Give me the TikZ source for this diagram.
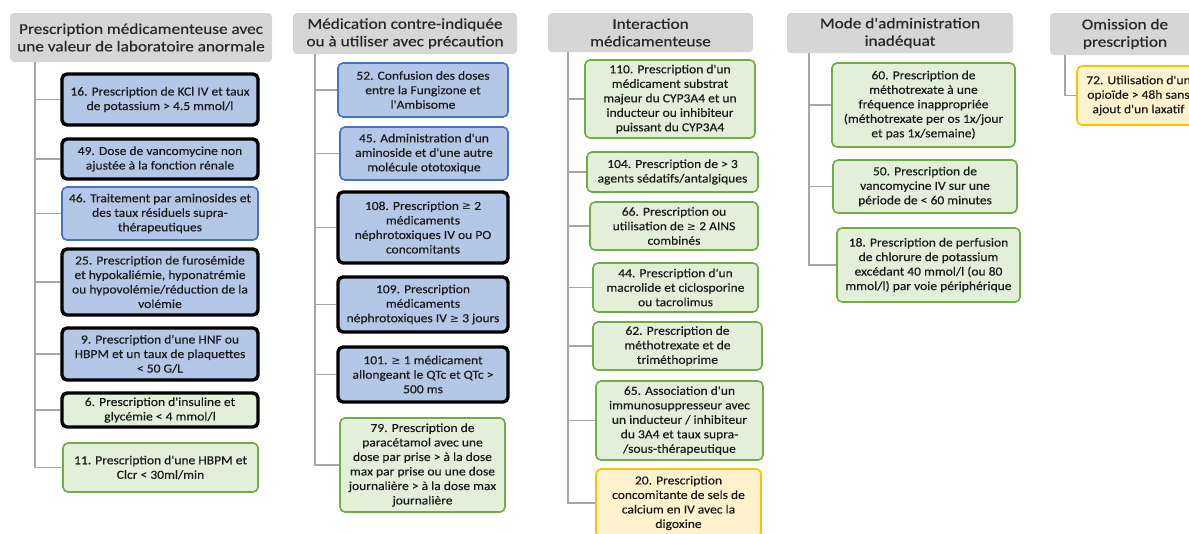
\documentclass[tikz,border=0pt]{standalone}
\usepackage{fontspec}
\setmainfont{Carlito}
\newfontfamily\boxfam{Carlito}[FakeStretch=1.1, FakeBold=0.3]
\newfontfamily\hdrfam{Carlito}[FakeStretch=1.15, FakeBold=0.2]
\newfontfamily\symfont{DejaVu Sans}
\newcommand{\myhdrfont}{\hdrfam\fontsize{15}{17.5}\selectfont}
\newcommand{\myboxfont}{\boxfam\fontsize{12.3}{14.5}\selectfont}
\newcommand{\mygeq}{{\symfont\fontsize{11}{14.5}\selectfont ≥}}
\definecolor{hdrgray}{HTML}{D6D6D6}
\definecolor{hdrtext}{HTML}{262626}
\definecolor{boxtext}{HTML}{1A1A1A}
\definecolor{bluefill}{HTML}{B4C7E7}
\definecolor{blueline}{HTML}{4472C4}
\definecolor{greenfill}{HTML}{E2F0D9}
\definecolor{greenline}{HTML}{70AD47}
\definecolor{yellowfill}{HTML}{FFF2CC}
\definecolor{yellowline}{HTML}{FFC000}
\definecolor{connline}{HTML}{A6A6A6}
\tikzset{
  hdr/.style={fill=hdrgray, rounded corners=4pt, inner sep=0pt, align=center, font=\myhdrfont, text=hdrtext},
  bx/.style={rounded corners=5pt, inner sep=0pt, align=center, font=\myboxfont, text=boxtext},
  bluebox/.style={bx, fill=bluefill, draw=blueline, line width=1.6pt},
  blackblue/.style={bx, fill=bluefill, draw=black, line width=3.4pt},
  blackgreen/.style={bx, fill=greenfill, draw=black, line width=3.4pt},
  greenbox/.style={bx, fill=greenfill, draw=greenline, line width=1.6pt},
  yellowbox/.style={bx, fill=yellowfill, draw=yellowline, line width=1.6pt},
  conn/.style={draw=connline, line width=1.8pt},
  sz/.style 2 args={minimum width=#1pt, minimum height=#2pt}
}
\begin{document}
\begin{tikzpicture}[x=1pt,y=-1pt]
\useasboundingbox (0,0) rectangle (1189,533);
\clip (0,0) rectangle (1189,533);
\fill[white] (0,0) rectangle (1189,533);

% ---------- column 1
\node[hdr, sz={262}{49}] (h1) at (141,37.5) {Prescription médicamenteuse avec\\une valeur de laboratoire anormale};
\node[blackblue, sz={196}{51}] (b16) at (160,99.5) {16. Prescription de KCl IV et taux\\de potassium > 4.5 mmol/l};
\node[blackblue, sz={196}{40}] (b49) at (160,159) {49. Dose de vancomycine non\\ajustée à la fonction rénale};
\node[bluebox, sz={196}{53}] (b46) at (160,213.5) {46. Traitement par aminosides et\\des taux résiduels supra-\\thérapeutiques};
\node[blackblue, sz={196}{66}] (b25) at (160,282) {25. Prescription de furosémide\\et hypokaliémie, hyponatrémie\\ou hypovolémie/réduction de la\\volémie};
\node[blackblue, sz={196}{52}] (b9) at (160,354) {9. Prescription d'une HNF ou\\HBPM et un taux de plaquettes\\< 50 G/L};
\node[blackgreen, sz={196}{34}] (b6) at (160,410) {6. Prescription d'insuline et\\glycémie < 4 mmol/l};
\node[greenbox, sz={195}{49}] (b11) at (160.5,467.5) {11. Prescription d'une HBPM et\\Clcr < 30ml/min};
\coordinate (v1) at (35,0);
\draw[conn] (v1 |- h1.south) |- (b11.west);
\foreach \b in {b16,b49,b46,b25,b9,b6} \draw[conn] (v1 |- \b.west) -- (\b.west);

% ---------- column 2
\node[hdr, sz={224}{41}] (h2) at (405,33.5) {Médication contre-indiquée\\ou à utiliser avec précaution};
\node[bluebox, sz={170}{54}] (b52) at (423,90) {52. Confusion des doses\\entre la Fungizone et\\l'Ambisome};
\node[bluebox, sz={168}{53}] (b45) at (424,153.5) {45. Administration d'un\\aminoside et d'une autre\\molécule ototoxique};
\node[blackblue, sz={170}{71}] (b108) at (423,227.5) {108. Prescription \mygeq{} 2\\médicaments\\néphrotoxiques IV ou PO\\concomitants};
\node[blackblue, sz={170}{55}] (b109) at (423,304.5) {109. Prescription\\médicaments\\néphrotoxiques IV \mygeq{} 3 jours};
\node[blackblue, sz={170}{55}] (b101) at (423,374.5) {101. \mygeq{} 1 médicament\\allongeant le QTc et QTc >\\500 ms};
\node[greenbox, sz={165}{94}] (b79) at (422.5,465) {79. Prescription de\\paracétamol avec une\\dose par prise > à la dose\\max par prise ou une dose\\journalière > à la dose max\\journalière};
\coordinate (v2) at (315,0);
\draw[conn] (v2 |- h2.south) |- (b79.west);
\foreach \b in {b52,b45,b108,b109,b101} \draw[conn] (v2 |- \b.west) -- (\b.west);

% ---------- column 3
\node[hdr, sz={205}{39}] (h3) at (650.5,32.5) {Interaction\\médicamenteuse};
\node[greenbox, sz={170}{78}] (b110) at (670,99) {110. Prescription d'un\\médicament substrat\\majeur du CYP3A4 et un\\inducteur ou inhibiteur\\puissant du CYP3A4};
\node[greenbox, sz={171}{40}] (b104) at (672.5,172) {104. Prescription de > 3\\agents sédatifs/antalgiques};
\node[greenbox, sz={168}{48}] (b66) at (674,226) {66. Prescription ou\\utilisation de \mygeq{} 2 AINS\\combinés};
\node[greenbox, sz={165}{49}] (b44) at (675.5,287.5) {44. Prescription d'un\\macrolide et ciclosporine\\ou tacrolimus};
\node[greenbox, sz={169}{48}] (b62) at (677.5,346) {62. Prescription de\\méthotrexate et de\\triméthoprime};
\node[greenbox, sz={167}{79}] (b65) at (679.5,420.5) {65. Association d'un\\immunosuppresseur avec\\un inducteur / inhibiteur\\du 3A4 et taux supra-\\/sous-thérapeutique};
\node[yellowbox, sz={165}{68}] (b20) at (678.5,503) {20. Prescription\\concomitante de sels de\\calcium en IV avec la\\digoxine};
\coordinate (v3) at (568,0);
\draw[conn] (v3 |- h3.south) |- (b20.west);
\foreach \b in {b110,b104,b66,b44,b62,b65} \draw[conn] (v3 |- \b.west) -- (\b.west);

% ---------- column 4
\node[hdr, sz={226}{40}] (h4) at (900,33) {Mode d'administration\\inadéquat};
\node[greenbox, sz={183}{84}] (b60) at (923.5,105) {60. Prescription de\\méthotrexate à une\\fréquence inappropriée\\(méthotrexate per os 1x/jour\\et pas 1x/semaine)};
\node[greenbox, sz={184}{53}] (b50) at (925,186.5) {50. Prescription de\\vancomycine IV sur une\\période de < 60 minutes};
\node[greenbox, sz={183}{74}] (b18) at (928.5,265) {18. Prescription de perfusion\\de chlorure de potassium\\excédant 40 mmol/l (ou 80\\mmol/l) par voie périphérique};
\coordinate (v4) at (809,0);
\draw[conn] (v4 |- h4.south) |- (b18.west);
\foreach \b in {b60,b50} \draw[conn] (v4 |- \b.west) -- (\b.west);

% ---------- column 5
\node[hdr, sz={150}{42}] (h5) at (1125,34) {Omission de\\prescription};
\node[yellowbox, sz={123}{59}] (b72) at (1138.5,95.5) {72. Utilisation d'un\\opioïde > 48h sans\\ajout d'un laxatif};
\coordinate (v5) at (1065,0);
\draw[conn] (v5 |- h5.south) |- (b72.west);
\end{tikzpicture}
\end{document}
